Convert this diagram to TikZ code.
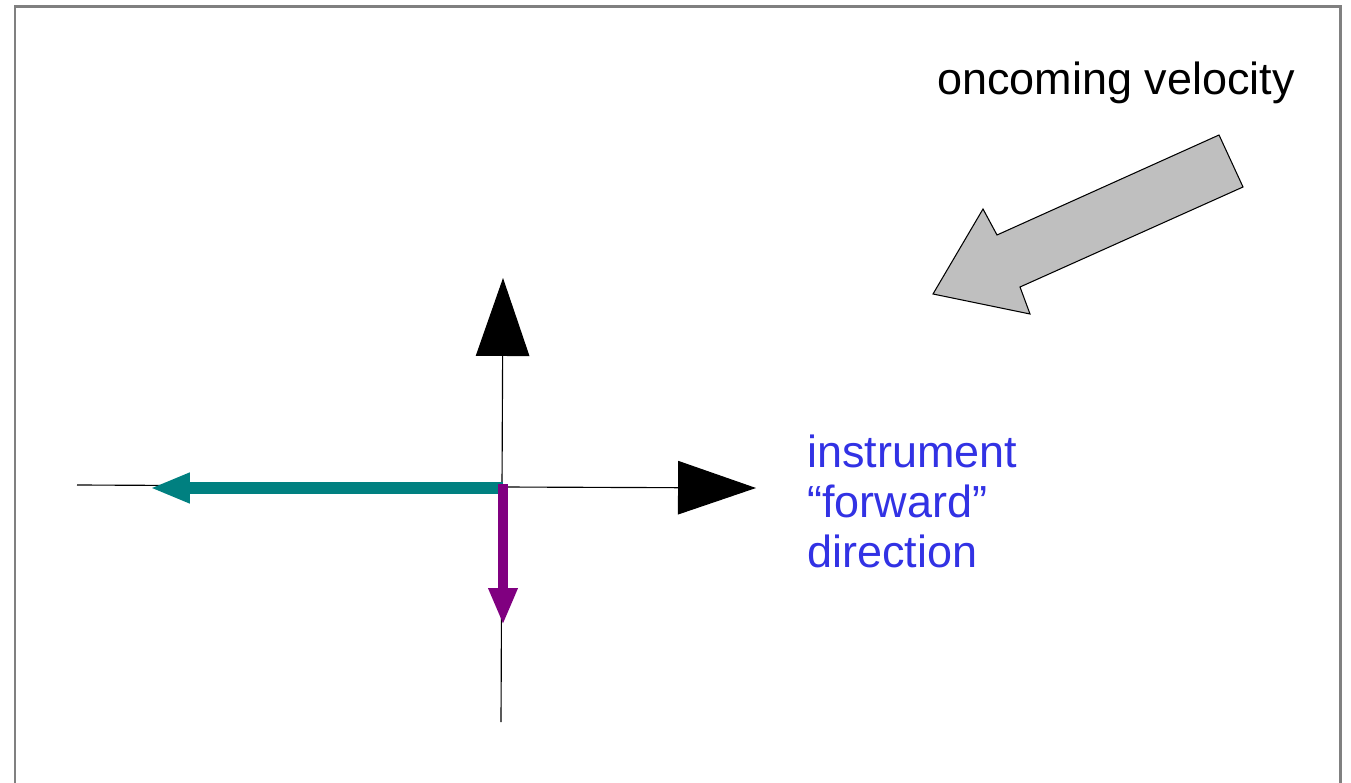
\documentclass[tikz,border=0pt]{standalone}
\usepackage{fontspec}
\setmainfont{Liberation Sans}
\usepackage{tikz}
\usetikzlibrary{arrows.meta,positioning}
\definecolor{instrblue}{RGB}{50,50,228}
\definecolor{velteal}{RGB}{0,128,128}
\definecolor{velpurple}{RGB}{128,0,128}
\tikzset{
  axisline/.style={line width=0.65pt, black},
  bigtip/.style={-{Triangle[length=1.56cm, width=1.07cm]}},
  label/.style={font=\fontsize{25.6pt}{28.4pt}\selectfont, inner sep=0pt, align=left}
}

\begin{document}
\begin{tikzpicture}[x=0.02cm, y=-0.02cm]
  \useasboundingbox (0,0) rectangle (1351,783);

  % Frame
  \draw[gray, line width=1.7pt] (15,790) -- (15,7) -- (1340,7) -- (1340,790);

  % Axes
  \coordinate (origin) at (502,487);
  \coordinate (up) at (503,278);
  \coordinate (fwd) at (756,488);
  \coordinate (down) at (501,722);
  \coordinate (back) at (77,485);
  \draw[axisline] (back) -- (origin) -- (down);
  \draw[axisline, bigtip] (origin) -- (up);
  \draw[axisline, bigtip] (origin) -- (fwd);

  % Velocity components
  \coordinate (tealtip) at (150,488);
  \coordinate (purpletip) at (503,625);
  \draw[velteal, line width=6.8pt, -{Triangle[length=0.8cm, width=0.56cm]}]
    (503,488) -- (tealtip);
  \draw[velpurple, line width=6pt, -{Triangle[length=0.74cm, width=0.54cm]}]
    (503,484) -- (purpletip);

  % Oncoming velocity block arrow
  \draw[fill=gray!50, line width=0.6pt, line join=miter]
    (1219,135) -- (1243,187) -- (1020,287) -- (1030,314) -- (933,294)
    -- (983,209) -- (997,235) -- cycle;

  % Labels
  \node[label, anchor=base west] (oncoming) at (937,95) {oncoming velocity};
  \node[label, anchor=base west, text=instrblue] (forward) at (807,567)
    {instrument\\“forward”\\direction};
\end{tikzpicture}
\end{document}
